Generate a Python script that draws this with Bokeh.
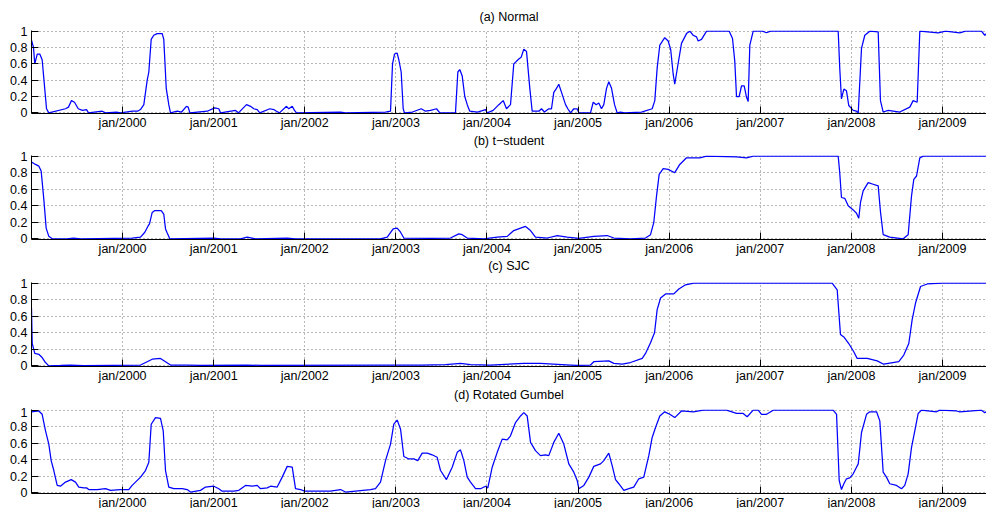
from bokeh.plotting import figure
from bokeh.layouts import column
from bokeh.models import Range1d, FixedTicker, Title
from bokeh.embed import file_html
from bokeh.resources import INLINE

# Tick positions (decimal years) and their labels
tick_years = [2000, 2001, 2002, 2003, 2004, 2005, 2006, 2007, 2008, 2009]
tick_labels = ["jan/2000", "jan/2001", "jan/2002", "jan/2003", "jan/2004",
               "jan/2005", "jan/2006", "jan/2007", "jan/2008", "jan/2009"]
y_ticks = [0, 0.2, 0.4, 0.6, 0.8, 1]
y_labels = ["0", "0.2", "0.4", "0.6", "0.8", "1"]

# (a) Normal: smoothed regime probability
normal_t = [1999.000, 1999.022, 1999.036, 1999.063, 1999.091, 1999.117, 1999.165, 1999.190,
            1999.373, 1999.406, 1999.439, 1999.472, 1999.513, 1999.560, 1999.604, 1999.626,
            1999.776, 1999.812, 1999.933, 1999.977, 2000.109, 2000.164, 2000.196, 2000.233,
            2000.270, 2000.288, 2000.314, 2000.342, 2000.380, 2000.435, 2000.452, 2000.479,
            2000.507, 2000.526, 2000.599, 2000.647, 2000.701, 2000.720, 2000.738, 2000.929,
            2001.012, 2001.056, 2001.075, 2001.239, 2001.272, 2001.360, 2001.404, 2001.440,
            2001.478, 2001.506, 2001.616, 2001.660, 2001.689, 2001.722, 2001.799, 2001.824,
            2001.862, 2001.887, 2001.909, 2002.392, 2002.447, 2002.886, 2002.941, 2002.963,
            2002.985, 2003.014, 2003.032, 2003.058, 2003.080, 2003.094, 2003.182, 2003.278,
            2003.325, 2003.380, 2003.446, 2003.482, 2003.654, 2003.680, 2003.701, 2003.728,
            2003.756, 2003.783, 2003.811, 2003.896, 2003.984, 2004.002, 2004.068, 2004.130,
            2004.178, 2004.214, 2004.258, 2004.294, 2004.349, 2004.375, 2004.404, 2004.434,
            2004.470, 2004.496, 2004.569, 2004.598, 2004.631, 2004.678, 2004.708, 2004.733,
            2004.763, 2004.788, 2004.818, 2004.862, 2004.887, 2004.917, 2004.953, 2004.990,
            2005.008, 2005.136, 2005.166, 2005.199, 2005.227, 2005.257, 2005.282, 2005.312,
            2005.337, 2005.367, 2005.400, 2005.429, 2005.465, 2005.509, 2005.696, 2005.813,
            2005.842, 2005.868, 2005.897, 2005.951, 2005.989, 2006.017, 2006.044, 2006.061,
            2006.099, 2006.135, 2006.190, 2006.226, 2006.263, 2006.300, 2006.318, 2006.355,
            2006.410, 2006.659, 2006.695, 2006.720, 2006.739, 2006.768, 2006.794, 2006.823,
            2006.849, 2006.867, 2006.885, 2006.922, 2007.024, 2007.068, 2007.112, 2007.855,
            2007.872, 2007.891, 2007.917, 2007.946, 2007.971, 2008.020, 2008.056, 2008.075,
            2008.111, 2008.147, 2008.202, 2008.294, 2008.319, 2008.349, 2008.404, 2008.531,
            2008.641, 2008.678, 2008.722, 2008.751, 2008.953, 2009.033, 2009.190, 2009.252,
            2009.428, 2009.464, 2009.483]
normal_p = [0.89, 0.80, 0.60, 0.72, 0.72, 0.65, 0.05, 0.00,
            0.05, 0.07, 0.15, 0.13, 0.05, 0.03, 0.04, 0.00,
            0.02, 0.00, 0.01, 0.00, 0.02, 0.02, 0.04, 0.10,
            0.40, 0.50, 0.90, 0.95, 0.97, 0.97, 0.90, 0.30,
            0.10, 0.00, 0.02, 0.01, 0.08, 0.07, 0.00, 0.02,
            0.06, 0.05, 0.00, 0.03, 0.00, 0.10, 0.08, 0.05,
            0.04, 0.00, 0.05, 0.04, 0.02, 0.00, 0.08, 0.05,
            0.08, 0.03, 0.00, 0.01, 0.00, 0.01, 0.02, 0.60,
            0.72, 0.73, 0.65, 0.50, 0.05, 0.00, 0.01, 0.05,
            0.02, 0.03, 0.05, 0.00, 0.00, 0.50, 0.53, 0.45,
            0.20, 0.10, 0.02, 0.01, 0.04, 0.00, 0.03, 0.10,
            0.15, 0.05, 0.10, 0.60, 0.66, 0.68, 0.78, 0.75,
            0.30, 0.02, 0.02, 0.05, 0.01, 0.05, 0.05, 0.25,
            0.30, 0.35, 0.25, 0.10, 0.05, 0.00, 0.05, 0.05,
            0.00, 0.00, 0.13, 0.10, 0.12, 0.05, 0.10, 0.30,
            0.38, 0.30, 0.10, 0.00, 0.01, 0.00, 0.01, 0.05,
            0.15, 0.55, 0.83, 0.92, 0.88, 0.77, 0.47, 0.35,
            0.61, 0.85, 0.97, 1.00, 0.95, 0.93, 0.88, 0.90,
            1.00, 1.00, 0.91, 0.63, 0.20, 0.20, 0.33, 0.33,
            0.19, 0.14, 0.83, 1.00, 1.00, 0.98, 1.00, 1.00,
            0.55, 0.17, 0.29, 0.27, 0.09, 0.03, 0.02, 0.00,
            0.79, 0.95, 1.00, 0.99, 0.15, 0.01, 0.03, 0.01,
            0.07, 0.15, 0.13, 1.00, 0.98, 1.00, 0.98, 1.00,
            1.00, 0.95, 0.97]

# (b) t-student
tstudent_t = [1999.000, 1999.044, 1999.080, 1999.106, 1999.135, 1999.161, 1999.190, 1999.227,
              1999.384, 1999.464, 1999.538, 2000.105, 2000.197, 2000.244, 2000.277, 2000.295,
              2000.325, 2000.350, 2000.424, 2000.452, 2000.471, 2000.490, 2000.518, 2001.001,
              2001.075, 2001.294, 2001.368, 2001.459, 2001.807, 2001.898, 2002.831, 2002.905,
              2002.970, 2003.014, 2003.051, 2003.087, 2003.380, 2003.599, 2003.690, 2003.728,
              2003.783, 2003.965, 2004.112, 2004.222, 2004.294, 2004.368, 2004.423, 2004.478,
              2004.532, 2004.661, 2004.771, 2004.880, 2005.008, 2005.172, 2005.319, 2005.392,
              2005.575, 2005.740, 2005.795, 2005.831, 2005.861, 2005.890, 2005.934, 2005.989,
              2006.061, 2006.116, 2006.190, 2006.336, 2006.410, 2006.739, 2006.849, 2006.922,
              2007.855, 2007.872, 2007.891, 2007.927, 2007.965, 2008.020, 2008.056, 2008.081,
              2008.100, 2008.129, 2008.184, 2008.239, 2008.294, 2008.319, 2008.349, 2008.421,
              2008.568, 2008.623, 2008.660, 2008.685, 2008.715, 2008.751, 2008.788, 2009.483]
tstudent_p = [0.93, 0.90, 0.88, 0.82, 0.48, 0.13, 0.03, 0.00,
              0.00, 0.01, 0.00, 0.01, 0.02, 0.08, 0.15, 0.18,
              0.32, 0.34, 0.34, 0.30, 0.12, 0.07, 0.00, 0.01,
              0.00, 0.00, 0.02, 0.00, 0.01, 0.00, 0.00, 0.02,
              0.12, 0.13, 0.08, 0.01, 0.005, 0.01, 0.06, 0.05,
              0.01, 0.00, 0.02, 0.03, 0.10, 0.13, 0.15, 0.10,
              0.02, 0.01, 0.04, 0.02, 0.005, 0.03, 0.04, 0.01,
              0.00, 0.01, 0.05, 0.20, 0.52, 0.78, 0.85, 0.84,
              0.80, 0.90, 0.98, 0.98, 1.00, 0.99, 0.98, 1.00,
              1.00, 0.80, 0.50, 0.49, 0.40, 0.35, 0.31, 0.25,
              0.44, 0.58, 0.68, 0.66, 0.64, 0.33, 0.05, 0.02,
              0.00, 0.05, 0.52, 0.72, 0.76, 0.98, 1.00, 1.00]

# (c) SJC
sjc_t = [1999.000, 1999.008, 1999.036, 1999.080, 1999.117, 1999.154, 1999.190, 1999.318,
         1999.428, 1999.571, 2000.197, 2000.270, 2000.325, 2000.416, 2000.471, 2000.526,
         2000.712, 2000.855, 2001.360, 2001.514, 2002.977, 2003.270, 2003.545, 2003.709,
         2003.819, 2004.038, 2004.404, 2004.587, 2004.917, 2004.990, 2005.136, 2005.172,
         2005.337, 2005.392, 2005.484, 2005.575, 2005.704, 2005.740, 2005.795, 2005.839,
         2005.868, 2005.905, 2005.960, 2006.051, 2006.106, 2006.179, 2006.270, 2007.789,
         2007.844, 2007.880, 2007.917, 2007.971, 2008.026, 2008.063, 2008.173, 2008.283,
         2008.355, 2008.520, 2008.575, 2008.630, 2008.667, 2008.704, 2008.759, 2008.832,
         2008.997, 2009.483]
sjc_p = [0.70, 0.27, 0.15, 0.14, 0.10, 0.04, 0.00, 0.005,
         0.01, 0.002, 0.01, 0.05, 0.08, 0.09, 0.05, 0.01,
         0.01, 0.005, 0.01, 0.005, 0.01, 0.01, 0.015, 0.03,
         0.015, 0.01, 0.03, 0.03, 0.01, 0.005, 0.01, 0.05,
         0.06, 0.03, 0.02, 0.04, 0.09, 0.15, 0.28, 0.40,
         0.68, 0.82, 0.87, 0.87, 0.93, 0.98, 1.00, 1.00,
         0.92, 0.38, 0.35, 0.27, 0.17, 0.09, 0.09, 0.06,
         0.02, 0.05, 0.13, 0.27, 0.56, 0.76, 0.96, 0.99,
         1.00, 1.00]

# (d) Rotated Gumbel
gumbel_t = [1999.000, 1999.080, 1999.117, 1999.154, 1999.190, 1999.216, 1999.245, 1999.282,
            1999.318, 1999.373, 1999.436, 1999.483, 1999.519, 1999.574, 1999.604, 1999.629,
            1999.721, 1999.812, 1999.867, 1999.977, 2000.068, 2000.105, 2000.197, 2000.251,
            2000.288, 2000.314, 2000.361, 2000.416, 2000.446, 2000.471, 2000.507, 2000.562,
            2000.654, 2000.709, 2000.745, 2000.855, 2000.910, 2001.001, 2001.056, 2001.093,
            2001.221, 2001.276, 2001.349, 2001.423, 2001.478, 2001.514, 2001.587, 2001.624,
            2001.697, 2001.752, 2001.807, 2001.862, 2001.898, 2001.953, 2001.997, 2002.282,
            2002.392, 2002.447, 2002.721, 2002.776, 2002.831, 2002.886, 2002.941, 2002.977,
            2003.014, 2003.051, 2003.087, 2003.142, 2003.197, 2003.240, 2003.289, 2003.344,
            2003.398, 2003.453, 2003.490, 2003.555, 2003.618, 2003.673, 2003.709, 2003.746,
            2003.783, 2003.819, 2003.874, 2003.929, 2003.984, 2004.009, 2004.057, 2004.112,
            2004.167, 2004.222, 2004.258, 2004.313, 2004.368, 2004.404, 2004.441, 2004.478,
            2004.532, 2004.587, 2004.642, 2004.678, 2004.733, 2004.788, 2004.843, 2004.898,
            2004.953, 2004.990, 2005.008, 2005.063, 2005.118, 2005.172, 2005.246, 2005.282,
            2005.337, 2005.374, 2005.411, 2005.447, 2005.502, 2005.557, 2005.611, 2005.666,
            2005.721, 2005.776, 2005.813, 2005.850, 2005.897, 2005.951, 2006.006, 2006.061,
            2006.135, 2006.264, 2006.373, 2006.629, 2006.739, 2006.812, 2006.856, 2006.922,
            2006.977, 2007.013, 2007.068, 2007.142, 2007.800, 2007.837, 2007.866, 2007.891,
            2007.917, 2007.946, 2007.982, 2008.020, 2008.056, 2008.075, 2008.111, 2008.166,
            2008.202, 2008.276, 2008.312, 2008.349, 2008.385, 2008.421, 2008.495, 2008.550,
            2008.586, 2008.623, 2008.660, 2008.696, 2008.733, 2008.770, 2008.934, 2008.970,
            2009.154, 2009.190, 2009.428, 2009.464, 2009.483]
gumbel_p = [0.98, 0.99, 0.95, 0.75, 0.59, 0.39, 0.27, 0.09,
            0.08, 0.13, 0.16, 0.13, 0.07, 0.06, 0.06, 0.04,
            0.04, 0.05, 0.03, 0.04, 0.04, 0.09, 0.19, 0.27,
            0.37, 0.83, 0.91, 0.90, 0.75, 0.27, 0.07, 0.05,
            0.05, 0.04, 0.01, 0.03, 0.07, 0.08, 0.05, 0.02,
            0.02, 0.03, 0.09, 0.08, 0.09, 0.05, 0.06, 0.08,
            0.07, 0.19, 0.32, 0.31, 0.05, 0.04, 0.02, 0.02,
            0.04, 0.01, 0.04, 0.05, 0.13, 0.39, 0.59, 0.83,
            0.88, 0.77, 0.44, 0.41, 0.41, 0.39, 0.48, 0.48,
            0.46, 0.43, 0.27, 0.16, 0.31, 0.49, 0.52, 0.39,
            0.19, 0.13, 0.05, 0.05, 0.08, 0.06, 0.31, 0.49,
            0.65, 0.64, 0.69, 0.85, 0.93, 0.97, 0.93, 0.61,
            0.51, 0.45, 0.46, 0.45, 0.61, 0.72, 0.59, 0.35,
            0.25, 0.15, 0.05, 0.09, 0.19, 0.32, 0.35, 0.39,
            0.48, 0.33, 0.16, 0.11, 0.03, 0.05, 0.07, 0.17,
            0.19, 0.45, 0.67, 0.79, 0.93, 0.98, 0.95, 0.91,
            0.99, 0.98, 1.00, 1.00, 0.96, 0.96, 0.92, 1.00,
            1.00, 0.95, 0.95, 1.00, 1.00, 0.95, 0.15, 0.04,
            0.11, 0.17, 0.18, 0.23, 0.31, 0.35, 0.73, 0.95,
            0.98, 0.98, 0.87, 0.25, 0.19, 0.11, 0.09, 0.05,
            0.09, 0.23, 0.55, 0.75, 0.96, 1.00, 0.98, 1.00,
            0.99, 0.98, 1.00, 0.97, 0.98]

panels = [
    ("(a) Normal", normal_t, normal_p),
    ("(b) t\u2212student", tstudent_t, tstudent_p),
    ("(c) SJC", sjc_t, sjc_p),
    ("(d) Rotated Gumbel", gumbel_t, gumbel_p),
]

# Each panel's caption is stacked under the previous panel's date labels, so that
# the strips between the frames stay as narrow as in a tight subplot layout.
# (height, top border, bottom border, standoff of the caption hanging below)
sizes = [(151, 29, 38, 3), (125, 4, 37, 1), (131, 6, 41, 5), (107, 2, 21, None)]

X0, X1 = 1999.0, 2009.483
Y0, Y1 = -0.008, 1.008

FONT = "Liberation Sans"
FSIZE = "12.5px"


def caption(text, standoff, valign):
    return Title(text=text, align="center", vertical_align=valign, offset=3,
                 text_font=FONT, text_font_size=FSIZE, text_font_style="normal",
                 text_color="black", standoff=standoff)


figs = []
for i, ((title, t, p), (h, top, bottom, next_standoff)) in enumerate(zip(panels, sizes)):
    f = figure(width=986, height=h, output_backend="svg", toolbar_location=None,
               x_range=Range1d(X0, X1), y_range=Range1d(Y0, Y1),
               min_border_left=31, min_border_right=0,
               min_border_top=top, min_border_bottom=bottom,
               background_fill_color="white", border_fill_color="white")
    f.outline_line_color = None

    f.line(t, p, line_color="#0000ff", line_width=1.25)

    f.xaxis.ticker = FixedTicker(ticks=tick_years)
    f.xaxis.major_label_overrides = dict(zip(tick_years, tick_labels))
    f.yaxis.ticker = FixedTicker(ticks=y_ticks)
    f.yaxis.major_label_overrides = dict(zip(y_ticks, y_labels))
    for ax in (f.xaxis[0], f.yaxis[0]):
        ax.axis_line_color = "black"
        ax.axis_line_width = 1
        ax.major_tick_line_color = "black"
        ax.major_tick_in = 7
        ax.major_tick_out = 0
        ax.minor_tick_line_color = None
        ax.major_label_text_font = FONT
        ax.major_label_text_font_size = FSIZE
        ax.major_label_text_color = "black"
    f.xaxis.major_label_standoff = 2
    f.yaxis.major_label_standoff = 4

    f.xgrid.ticker = FixedTicker(ticks=tick_years)
    f.ygrid.ticker = FixedTicker(ticks=y_ticks)
    for g in (f.xgrid[0], f.ygrid[0]):
        g.grid_line_color = "#707070"
        g.grid_line_dash = "1 3"
        g.grid_line_width = 1

    if i == 0:
        f.add_layout(caption(title, 14, "bottom"), "above")
    if next_standoff is not None:
        f.add_layout(caption(panels[i + 1][0], next_standoff, "top"), "below")
    figs.append(f)

layout = column(*figs, spacing=0)
html = file_html(layout, INLINE)
# the last panel's label strip runs a few pixels past the page bottom; keep the page unscrolled
html = html.replace("<head>", "<head><style>html, body { margin: 0; overflow: hidden; }</style>", 1)
open("out.html", "w").write(html)
